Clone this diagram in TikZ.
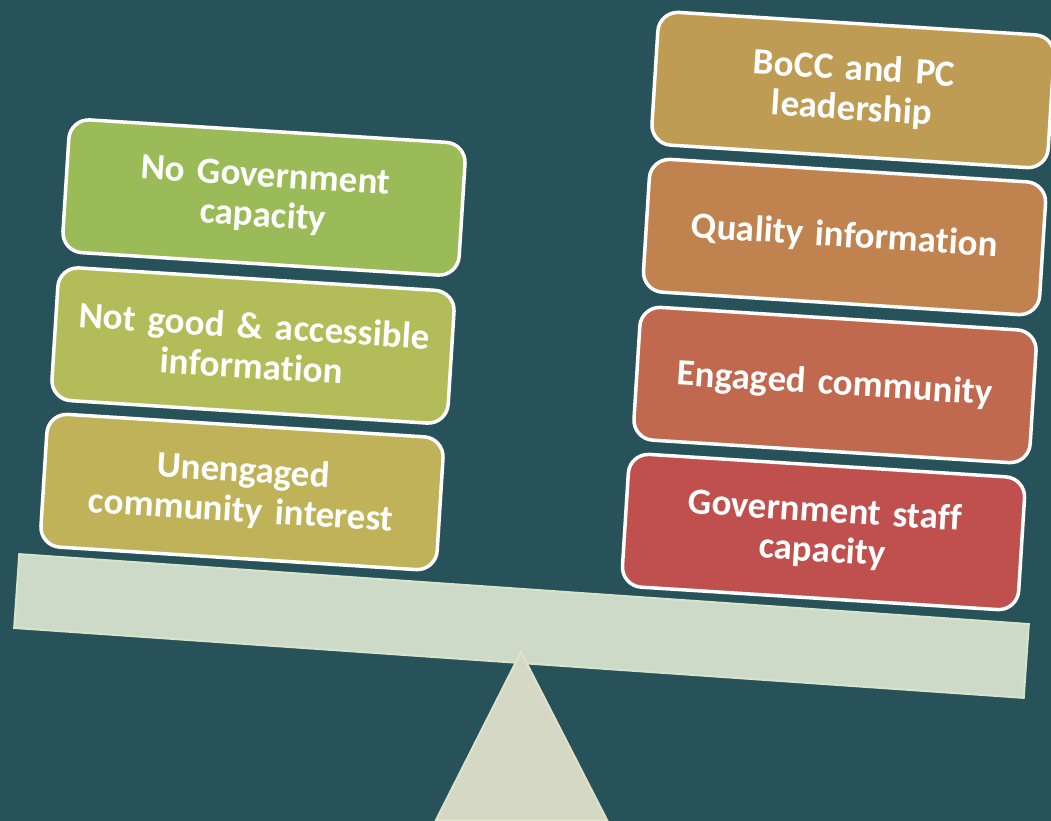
\documentclass[tikz,border=0pt]{standalone}
\usepackage{fontspec}
\setmainfont{Carlito}[Ligatures=NoCommon, WordSpace=0.75]
\definecolor{bgc}{HTML}{28525A}
\definecolor{beamc}{HTML}{CDDAC7}
\definecolor{beamb}{HTML}{D8E3CA}
\definecolor{fulc}{HTML}{D4D8C4}
\definecolor{fulb}{HTML}{DEE3CA}
\definecolor{cA}{HTML}{9BBB59}
\definecolor{cB}{HTML}{B2BD5A}
\definecolor{cC}{HTML}{BFB258}
\definecolor{cD}{HTML}{BF9C53}
\definecolor{cE}{HTML}{C0824F}
\definecolor{cF}{HTML}{C0694E}
\definecolor{cG}{HTML}{C0504D}
\tikzset{
  blk/.style={draw=white, line width=3.5pt, rounded corners=20pt,
    minimum width=397pt, minimum height=133pt, text width=390pt,
    align=center, text=white, inner sep=0pt, rotate=-3.6,
    font=\bfseries\fontsize{37}{40}\selectfont},
  beamstyle/.style={fill=beamc, draw=beamb, line width=2pt,
    minimum width=1012pt, minimum height=74pt, inner sep=0pt, rotate=-3.96},
  fulcstyle/.style={fill=fulc, draw=fulb, line width=2pt, line join=miter}
}
\begin{document}
\begin{tikzpicture}[x=1pt,y=-1pt]
\useasboundingbox (0,0) rectangle (1051,821);
\clip (0,0) rectangle (1051,821);
\fill[bgc] (0,0) rectangle (1051,821);
\node[beamstyle] (beam) at (521.5,626) {};
\coordinate (apex) at (521,652);
\coordinate (bl) at (436,820);
\coordinate (br) at (607,820);
\draw[fulcstyle] (apex) -- (br) -- (bl) -- cycle;
\node[blk, fill=cA] (l1) at (264,197.5) {No Government\\capacity};
\node[blk, fill=cB] (l2) at (253,345.5) {Not good \& accessible\\information};
\node[blk, fill=cC] (l3) at (242,492) {Unengaged\\community interest};
\node[blk, fill=cD] (r1) at (853,90) {BoCC and PC\\leadership};
\node[blk, fill=cE] (r2) at (844.5,237) {Quality information};
\node[blk, fill=cF] (r3) at (835,385) {Engaged community};
\node[blk, fill=cG] (r4) at (823.5,532) {Government staff\\capacity};
\end{tikzpicture}
\end{document}
